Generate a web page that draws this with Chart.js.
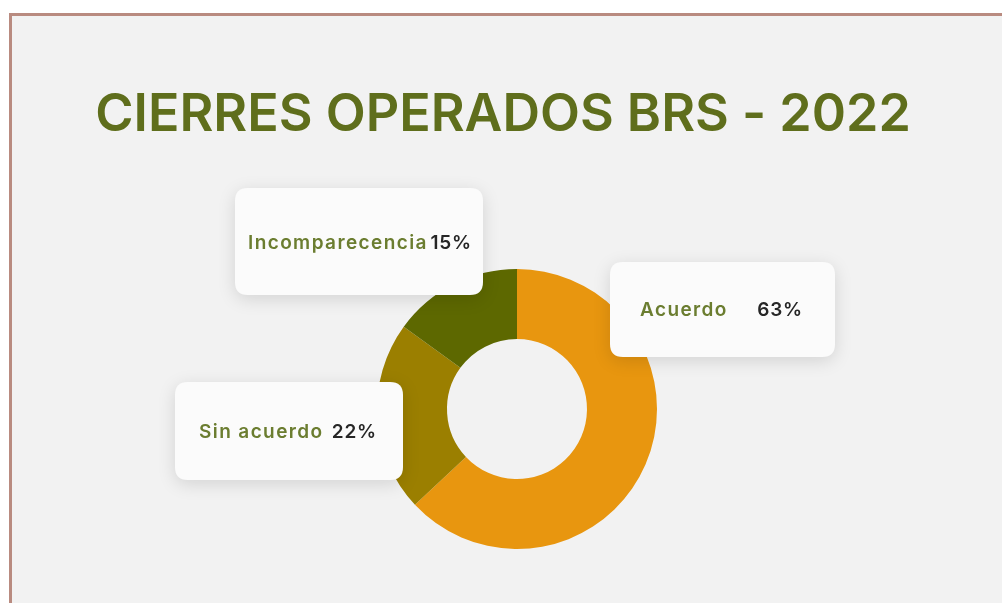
<!DOCTYPE html>
<html>
<head>
<meta charset="utf-8">
<script src="https://cdn.jsdelivr.net/npm/chart.js@4/dist/chart.umd.min.js"></script>
<style>
  html, body { margin: 0; padding: 0; background: #ffffff; overflow: hidden; }
  #panel {
    position: absolute; left: 9px; top: 13px;
    width: 993px; height: 590px;
    border-left: 3px solid #b98b80; border-top: 3px solid #b98b80;
    background: #f2f2f2;
  }
  #chart { display: block; }
</style>
</head>
<body>
<div id="panel"><canvas id="chart" width="990" height="587"></canvas></div>
<script>
// chart data
const categories = ['Acuerdo', 'Sin acuerdo', 'Incomparecencia'];
const percentages = [63, 22, 15];
const titleText = 'CIERRES OPERADOS BRS - 2022';

const sliceColors = ['#e8960f', '#9b7f00', '#5d6800'];

// callout boxes, offsets from the doughnut centre
const boxLayout = [
    { x: 93, y: -147, w: 225, h: 95, labelX: 123, valueX: 286, textY: -99 },
    { x: -342, y: -27, w: 228, h: 98, labelX: -318, valueX: -140, textY: 23 },
    { x: -282, y: -221, w: 248, h: 107, labelX: -269, valueX: -45, textY: -166 }
];

function roundRect(ctx, x, y, w, h, r) {
    ctx.beginPath();
    ctx.moveTo(x + r, y);
    ctx.lineTo(x + w - r, y);
    ctx.quadraticCurveTo(x + w, y, x + w, y + r);
    ctx.lineTo(x + w, y + h - r);
    ctx.quadraticCurveTo(x + w, y + h, x + w - r, y + h);
    ctx.lineTo(x + r, y + h);
    ctx.quadraticCurveTo(x, y + h, x, y + h - r);
    ctx.lineTo(x, y + r);
    ctx.quadraticCurveTo(x, y, x + r, y);
    ctx.closePath();
}

// title drawn a bit left of the doughnut centre, like the original slide
const titlePlugin = {
    id: 'slideTitle',
    afterDraw(chart) {
        const ctx = chart.ctx;
        ctx.save();
        ctx.font = '600 52px Inter';
        ctx.fillStyle = '#5f6e1c';
        ctx.textAlign = 'center';
        ctx.textBaseline = 'middle';
        ctx.fillText(titleText, 491, 99);
        ctx.restore();
    }
};

const calloutPlugin = {
    id: 'callouts',
    afterDatasetsDraw(chart) {
        const ctx = chart.ctx;
        const arc = chart.getDatasetMeta(0).data[0];
        const cx = arc.x, cy = arc.y;
        boxLayout.forEach((b, i) => {
            ctx.save();
            ctx.shadowColor = 'rgba(0,0,0,0.13)';
            ctx.shadowBlur = 18;
            ctx.shadowOffsetY = 4;
            ctx.fillStyle = '#fbfbfb';
            roundRect(ctx, cx + b.x, cy + b.y, b.w, b.h, 13);
            ctx.fill();
            ctx.restore();

            ctx.save();
            ctx.textBaseline = 'middle';
            ctx.textAlign = 'left';
            ctx.font = '600 19px Inter';
            ctx.letterSpacing = '1.4px';
            ctx.fillStyle = '#6b7d30';
            ctx.fillText(categories[i], cx + b.labelX, cy + b.textY);
            ctx.letterSpacing = '0.8px';
            ctx.fillStyle = '#262626';
            const txt = percentages[i] + '%';
            const w = ctx.measureText(txt).width;
            ctx.fillText(txt, cx + b.valueX - w, cy + b.textY);
            ctx.restore();
        });
    }
};

const ctx = document.getElementById('chart').getContext('2d');

const chart = new Chart(ctx, {
    type: 'doughnut',
    data: {
        labels: categories,
        datasets: [{
            data: percentages,
            backgroundColor: sliceColors,
            borderWidth: 0,
            hoverOffset: 0
        }]
    },
    options: {
        responsive: false,
        animation: false,
        cutout: '50%',
        layout: { padding: { top: 253, bottom: 54, left: 20, right: 0 } },
        plugins: {
            legend: { display: false },
            tooltip: { enabled: false },
            title: { display: false }
        }
    },
    plugins: [calloutPlugin, titlePlugin]
});
</script>
</body>
</html>
